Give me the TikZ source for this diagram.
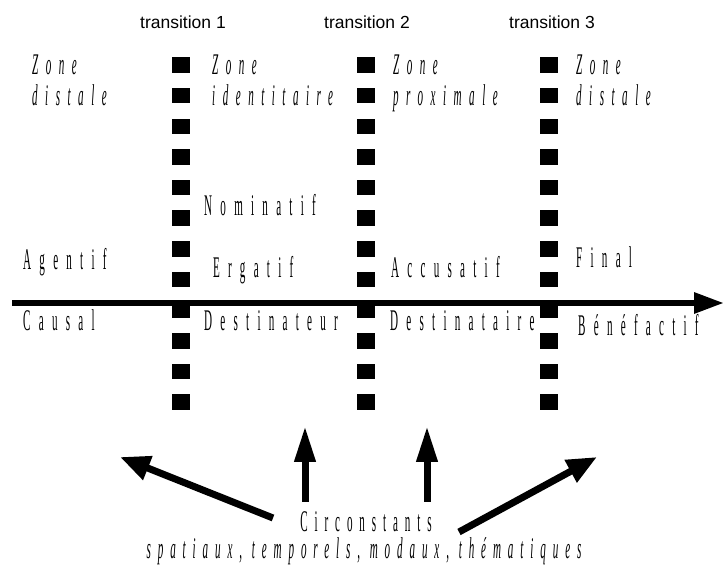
\documentclass[tikz,border=0pt]{standalone}
\usepackage{fontspec}
\setmainfont{Liberation Serif}
\newfontfamily\condf[FakeStretch=0.37,LetterSpace=27.5]{Liberation Serif}
\newfontfamily\condi[FakeStretch=0.37,LetterSpace=25]{Liberation Serif}
\newfontfamily\condb[FakeStretch=0.37,LetterSpace=23]{Liberation Serif}
\newfontfamily\sansf{Liberation Sans}
\usetikzlibrary{arrows.meta}
\begin{document}
\begin{tikzpicture}[x=1pt,y=-1pt,
  sq/.style={rectangle,fill=black,minimum width=18pt,minimum height=15.5pt,inner sep=0pt},
  lbl/.style={inner sep=0pt,anchor=base west,font=\condf\fontsize{30}{31}\selectfont},
  blbl/.style={inner sep=0pt,anchor=base,font=\condb\fontsize{30}{31}\selectfont},
  zlbl/.style={inner sep=0pt,anchor=north west,align=left,font=\condi\fontsize{30}{31}\selectfont\itshape},
  trans/.style={inner sep=0pt,anchor=center,font=\sansf\fontsize{17.5}{20}\selectfont},
  axis/.style={line width=6pt,-{Triangle[length=30pt,width=20pt]}},
  carrow/.style={line width=7pt,-{Triangle[length=36pt,width=20pt]}},
  darrow/.style={line width=7pt,-{Triangle[length=30pt,width=24pt]}}]
\useasboundingbox (0,0) rectangle (724,569);
% transition labels
\node[trans] (t1) at (183,22) {transition 1};
\node[trans] (t2) at (367,22) {transition 2};
\node[trans] (t3) at (552,22) {transition 3};
% dotted transition columns
\foreach \c/\x in {1/181,2/366,3/549}{
  \foreach \k in {0,...,11}{
    \node[sq] (s\c-\k) at (\x,{65+30.65*\k}) {};
  }
}
% axis
\coordinate (axL) at (12,303);
\coordinate (axR) at (724,303);
\draw[axis] (axL) -- (axR);
% zones
\node[zlbl] (z0) at (32,55) {Zone\\distale};
\node[zlbl] (z1) at (212,55) {Zone\\identitaire};
\node[zlbl] (z2) at (393,55) {Zone\\proximale};
\node[zlbl] (z3) at (576,55) {Zone\\distale};
% cases
\node[lbl] (nom) at (204,216) {Nominatif};
\node[lbl] (age) at (23,270) {Agentif};
\node[lbl] (erg) at (213,278) {Ergatif};
\node[lbl] (acc) at (391,278) {Accusatif};
\node[lbl] (fin) at (576,268) {Final};
\node[lbl] (cau) at (23,331) {Causal};
\node[lbl] (dtr) at (204,331) {Destinateur};
\node[lbl] (dta) at (390,331) {Destinataire};
\node[lbl] (ben) at (578,336) {Bénéfactif};
% circonstants
\node[blbl] (circ) at (366,532) {Circonstants};
\node[blbl,font=\condb\fontsize{30}{31}\selectfont\itshape] (circsub) at (364,559) {spatiaux, temporels, modaux, thématiques};
% arrows
\coordinate (a1s) at (273,518); \coordinate (a1e) at (120,457);
\coordinate (a2s) at (305,502); \coordinate (a2e) at (305,426);
\coordinate (a3s) at (427,502); \coordinate (a3e) at (427,426);
\coordinate (a4s) at (459,532); \coordinate (a4e) at (597,457);
\draw[darrow] (a1s) -- (a1e);
\draw[carrow] (a2s) -- (a2e);
\draw[carrow] (a3s) -- (a3e);
\draw[darrow] (a4s) -- (a4e);
\end{tikzpicture}
\end{document}
